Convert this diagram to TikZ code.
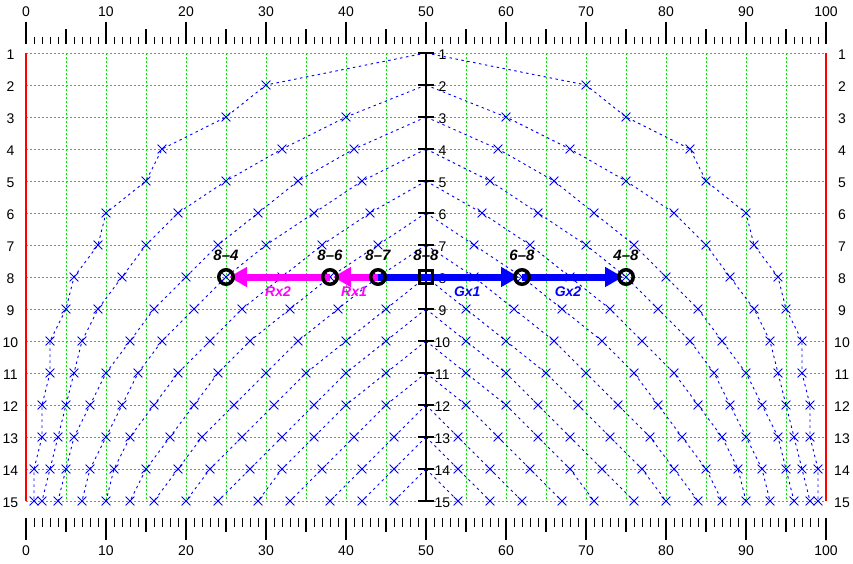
\documentclass[tikz,border=0pt]{standalone}
\usepackage{fontspec}
\setmainfont{Liberation Sans}
\usetikzlibrary{arrows.meta,shapes.misc}
\definecolor{gridgreen}{RGB}{0,230,0}
\definecolor{plotblue}{RGB}{0,0,255}
\definecolor{rxpink}{RGB}{255,0,255}
\begin{document}
\begin{tikzpicture}[x=8pt,y=-32pt,>={Triangle[length=18pt,width=19pt]},
    gridline/.style={gridgreen,line width=1pt,dash pattern=on 2pt off 2pt},
    trace/.style={plotblue,line width=0.9pt,dash pattern=on 2.5pt off 3.5pt},
    mk/.style={cross out,draw=plotblue,solid,line width=0.8pt,minimum size=8pt,inner sep=0pt},
    num/.style={font=\fontsize{14}{16}\selectfont,inner sep=0pt},
    ring/.style={circle,draw,line width=3.5pt,minimum size=14.5pt,inner sep=0pt},
    tag/.style={font=\fontsize{15}{17}\selectfont\bfseries\itshape,inner sep=0pt,yshift=21.5pt},
    move/.style={line width=7pt,->,shorten >=3pt},
    movetag/.style={font=\fontsize{14}{16}\selectfont\bfseries\itshape,inner sep=0pt,yshift=-14.5pt}]
    \useasboundingbox (-3.25,-0.65625) rectangle (103.375,16.9375);
    \foreach \x in {5,10,...,95} \draw[gridline] (\x,1) -- (\x,15);
    \foreach \r in {1,...,15} \draw[gridline] (0,\r) -- (100,\r);
    \draw[red,line width=2.5pt] (0,1) -- (0,15) (100,1) -- (100,15);
    \foreach \x in {0,...,100} \draw[line width=1pt] (\x,0.49) -- (\x,0.73) (\x,15.53) -- (\x,15.81);
    \foreach \x in {5,15,...,95} \draw[line width=1.2pt] (\x,0.26) -- (\x,0.73) (\x,15.53) -- (\x,15.97);
    \foreach \x in {0,10,...,100} {
        \draw[line width=1.6pt] (\x,0.02) -- (\x,0.73) (\x,15.53) -- (\x,16.22);
        \node[num] at (\x,-0.28) {\x};
        \node[num] at (\x,16.56) {\x};
    }
    \foreach \k/\vals in {1/{30,25,17,15,10,9,6,5,3,3,2,2,1,1},
            2/{40,32,25,19,15,12,9,7,6,5,4,3,2},
            3/{41,34,29,24,20,16,13,10,8,6,5,4},
            4/{42,36,30,25,21,17,14,12,10,8,7},
            5/{43,37,32,27,23,19,16,13,11,10},
            6/{44,38,33,28,24,21,18,15,13},
            7/{44,39,34,30,26,22,19,16},
            8/{45,40,35,31,27,23,20},
            9/{45,40,36,32,28,24},
            10/{45,40,36,32,29},
            11/{45,41,37,33},
            12/{46,42,38},
            13/{46,42},
            14/{46}} {
        \pgfmathtruncatemacro\s{\k+1}
        \draw[trace] (50,\k) \foreach \v [count=\r from \s] in \vals {-- (\v,\r) node[mk]{}};
        \draw[trace] (50,\k) \foreach \v [count=\r from \s] in \vals {-- (100-\v,\r) node[mk]{}};
    }
    \draw[line width=1.2pt] (50,1) -- (50,15);
    \foreach \r in {1,...,15} {
        \draw[line width=1.5pt] (49,\r) -- (51,\r);
        \node[num] at (-1.94,\r+0.06) {\r};
        \node[num] at (102,\r+0.06) {\r};
        \node[num] at (52.06,\r+0.06) {\r};
    }
    \coordinate (n84) at (25,8);
    \coordinate (n86) at (38,8);
    \coordinate (n87) at (44,8);
    \coordinate (n88) at (50,8);
    \coordinate (n68) at (62,8);
    \coordinate (n48) at (75,8);
    \draw[move,rxpink] (n86) -- (n84) node[midway,movetag]{Rx2};
    \draw[move,plotblue] (n68) -- (n48) node[midway,movetag,xshift=-6pt]{Gx2};
    \draw[move,plotblue] (n87) -- (n68) node[pos=0.62,movetag]{Gx1};
    \draw[move,rxpink] (n87) -- (n86) node[midway,movetag]{Rx1};
    \foreach \p/\t in {n84/8\textendash4,n86/8\textendash6,n87/8\textendash7,n68/6\textendash8,n48/4\textendash8} {
        \node[ring] at (\p) {};
        \node[tag] at (\p) {\t};
    }
    \node[draw,line width=3.5pt,minimum size=13pt,inner sep=0pt] at (n88) {};
    \node[tag] at (n88) {8\textendash8};
\end{tikzpicture}
\end{document}
